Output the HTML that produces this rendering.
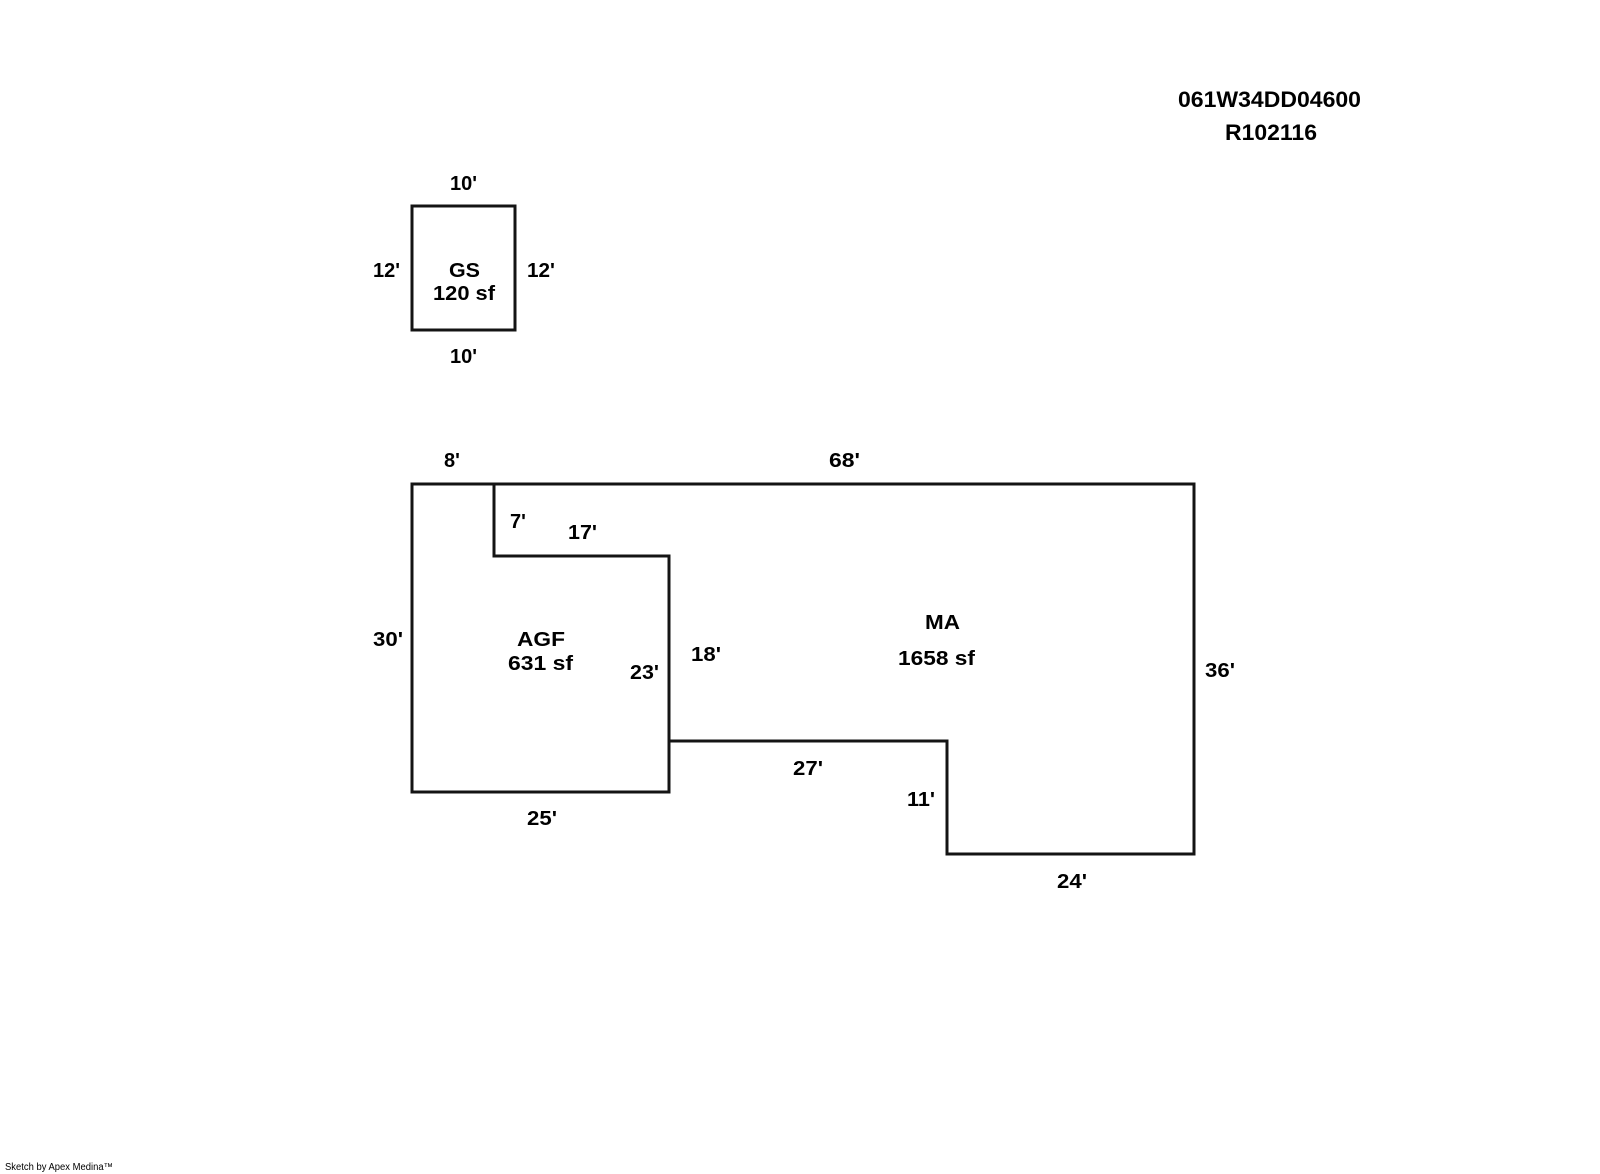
<!DOCTYPE html>
<html>
<head>
<meta charset="utf-8">
<style>
  html, body { margin: 0; padding: 0; background: #ffffff; }
  body { width: 1600px; height: 1174px; overflow: hidden; }
  svg { display: block; }
  text { font-family: "Liberation Sans", Arial, sans-serif; fill: #000; }
  .b { font-weight: bold; font-size: 20px; }
  .h { font-weight: bold; font-size: 22px; }
</style>
</head>
<body>
<svg width="1600" height="1174" viewBox="0 0 1600 1174" xmlns="http://www.w3.org/2000/svg">
  <rect x="0" y="0" width="1600" height="1174" fill="#ffffff"/>

  <!-- Header -->
  <text class="h" x="1178" y="107" textLength="183" lengthAdjust="spacingAndGlyphs">061W34DD04600</text>
  <text class="h" x="1225" y="140" textLength="92" lengthAdjust="spacingAndGlyphs">R102116</text>

  <!-- GS box -->
  <g fill="none" stroke="#141414" stroke-width="3" stroke-linejoin="miter">
    <rect x="412" y="206" width="103" height="124"/>
  </g>
  <text class="b" x="450" y="190" textLength="27" lengthAdjust="spacingAndGlyphs">10'</text>
  <text class="b" x="373" y="277" textLength="27" lengthAdjust="spacingAndGlyphs">12'</text>
  <text class="b" x="527" y="277" textLength="28" lengthAdjust="spacingAndGlyphs">12'</text>
  <text class="b" x="449" y="277" textLength="31" lengthAdjust="spacingAndGlyphs">GS</text>
  <text class="b" x="433" y="300" textLength="62" lengthAdjust="spacingAndGlyphs">120 sf</text>
  <text class="b" x="450" y="363" textLength="27" lengthAdjust="spacingAndGlyphs">10'</text>

  <!-- Main outline -->
  <g fill="none" stroke="#141414" stroke-width="3" stroke-linejoin="miter">
    <polygon points="412,484 1194,484 1194,854 947,854 947,741 669,741 669,792 412,792"/>
    <polyline points="494,484 494,556 669,556 669,741"/>
  </g>

  <!-- Main labels -->
  <text class="b" x="444" y="467">8'</text>
  <text class="b" x="510" y="528">7'</text>
  <text class="b" x="829" y="467" textLength="31" lengthAdjust="spacingAndGlyphs">68'</text>
  <text class="b" x="568" y="539" textLength="29" lengthAdjust="spacingAndGlyphs">17'</text>
  <text class="b" x="373" y="646" textLength="30" lengthAdjust="spacingAndGlyphs">30'</text>
  <text class="b" x="517" y="646" textLength="48" lengthAdjust="spacingAndGlyphs">AGF</text>
  <text class="b" x="508" y="670" textLength="65" lengthAdjust="spacingAndGlyphs">631 sf</text>
  <text class="b" x="630" y="679" textLength="29" lengthAdjust="spacingAndGlyphs">23'</text>
  <text class="b" x="691" y="661" textLength="30" lengthAdjust="spacingAndGlyphs">18'</text>
  <text class="b" x="527" y="825" textLength="30" lengthAdjust="spacingAndGlyphs">25'</text>
  <text class="b" x="793" y="775" textLength="30" lengthAdjust="spacingAndGlyphs">27'</text>
  <text class="b" x="907" y="806" textLength="28" lengthAdjust="spacingAndGlyphs">11'</text>
  <text class="b" x="1057" y="888" textLength="30" lengthAdjust="spacingAndGlyphs">24'</text>
  <text class="b" x="925" y="629" textLength="35" lengthAdjust="spacingAndGlyphs">MA</text>
  <text class="b" x="898" y="665" textLength="77" lengthAdjust="spacingAndGlyphs">1658 sf</text>
  <text class="b" x="1205" y="677" textLength="30" lengthAdjust="spacingAndGlyphs">36'</text>

  <!-- Footer -->
  <text x="5" y="1170" font-size="10" textLength="108" lengthAdjust="spacingAndGlyphs">Sketch by Apex Medina™</text>
</svg>
</body>
</html>
